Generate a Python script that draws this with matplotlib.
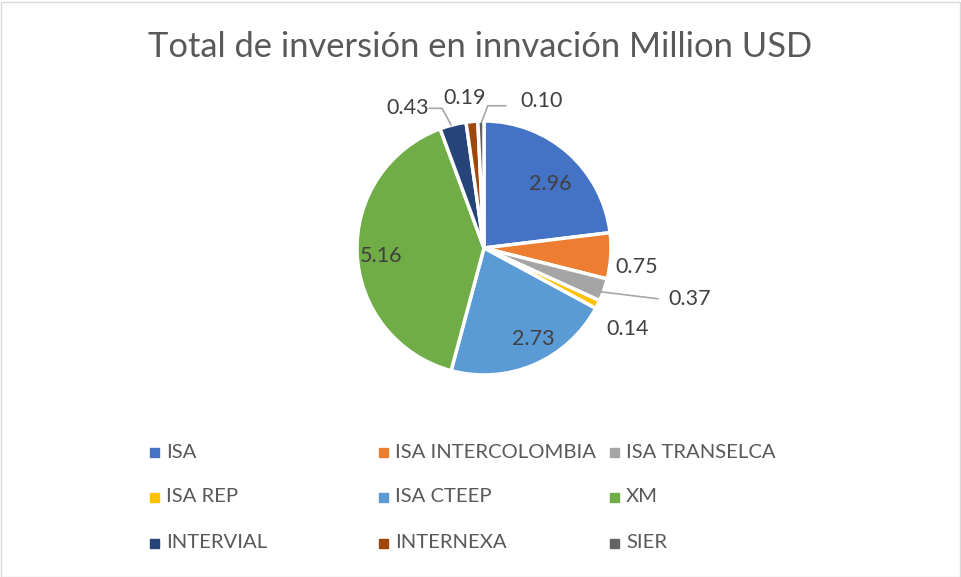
import matplotlib
matplotlib.use("Agg")
import matplotlib.pyplot as plt
from matplotlib.patches import Rectangle

plt.rcParams['font.family'] = ['Lato', 'DejaVu Sans']

# data
companies = ["ISA", "ISA INTERCOLOMBIA", "ISA TRANSELCA", "ISA REP", "ISA CTEEP",
             "XM", "INTERVIAL", "INTERNEXA", "SIER"]
investment = [2.96, 0.75, 0.37, 0.14, 2.73, 5.16, 0.43, 0.19, 0.10]
colors = ["#4472C4", "#ED7D31", "#A5A5A5", "#FFC000", "#5B9BD5",
          "#70AD47", "#264478", "#9E480E", "#636363"]

# where the value labels sit (pie radius = 1)
label_pos = [(0.52, 0.50), (1.20, -0.15), (1.62, -0.40), (1.13, -0.64), (0.39, -0.72),
             (-0.81, -0.06), (-0.60, 1.10), (-0.15, 1.18), (0.45, 1.16)]

W, H = 961, 577
fig = plt.figure(figsize=(W / 100, H / 100), dpi=100)

L = 1.7
side = 2 * L * 127
cx, cy = 484, 248
ax = fig.add_axes([(cx - side / 2) / W, (H - cy - side / 2) / H, side / W, side / H])

wedges, _ = ax.pie(investment, colors=colors, startangle=90, counterclock=False,
                   radius=1, wedgeprops=dict(edgecolor="white", linewidth=2.5))
ax.set_xlim(-L, L)
ax.set_ylim(-L, L)
ax.set_aspect("equal")
ax.axis("off")

for val, (x, y) in zip(investment, label_pos):
    ax.text(x, y, f"{val:.2f}", ha="center", va="center", fontsize=15.5, color="#404040")

# leader lines for the small slices
line_kw = dict(color="#A6A6A6", lw=1.2)
ax.plot([0.88, 1.37], [-0.34, -0.40], **line_kw)
ax.plot([-0.26, -0.33, -0.43], [0.97, 1.10, 1.10], **line_kw)
ax.plot([-0.02, 0.03, 0.17], [0.99, 1.12, 1.12], **line_kw)

fig.text(0.5, 1 - 47 / H, "Total de inversión en innvación Million USD",
         ha="center", va="center", fontsize=24.8, color="#595959")

# legend, 3 equal columns, row-major
col_x = [150, 379, 610]
row_y = [452, 497, 543]
for i, (name, c) in enumerate(zip(companies, colors)):
    r, k = divmod(i, 3)
    x, y = col_x[k], row_y[r]
    fig.patches.append(Rectangle((x / W, (H - y - 4.5) / H), 9 / W, 9 / H,
                                 transform=fig.transFigure, color=c))
    fig.text((x + 16) / W, (H - y) / H, name, ha="left", va="center",
             fontsize=14.6, color="#595959")

fig.patches.append(Rectangle((0.5 / W, 0.5 / H), (W - 2) / W, (H - 2) / H,
                             transform=fig.transFigure, fill=False,
                             edgecolor="#D9D9D9", lw=1))

fig.savefig("out.png", dpi=100)
